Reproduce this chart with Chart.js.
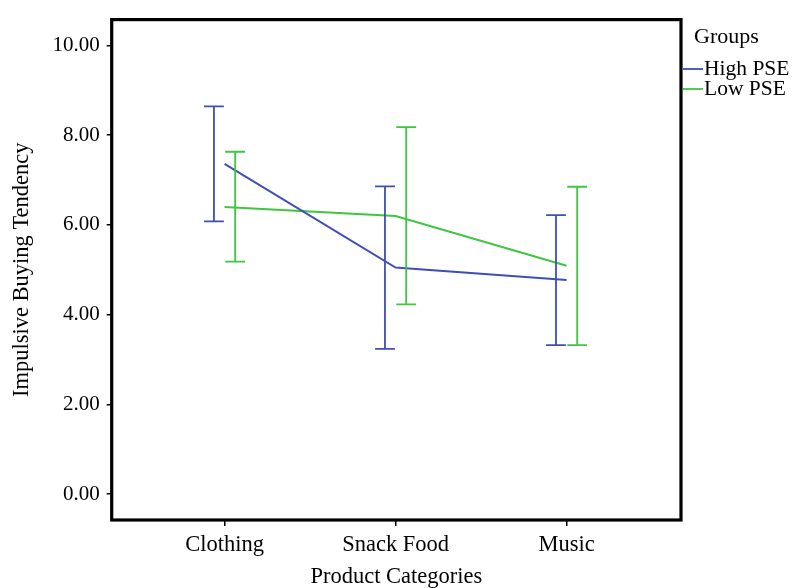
<!DOCTYPE html>
<html>
<head>
<meta charset="utf-8">
<script src="https://cdn.jsdelivr.net/npm/chart.js@4"></script>
<style>
  html, body { margin: 0; padding: 0; background: #fff; }
  #wrap { width: 796px; height: 588px; }
</style>
</head>
<body>
<div id="wrap"><canvas id="c" width="796" height="588"></canvas></div>
<script>
// ---- data ----
const categories = ['Clothing', 'Snack Food', 'Music'];
const seriesNames = ['High PSE', 'Low PSE'];
const highMean = [7.36, 5.05, 4.77];
const highLow  = [6.08, 3.24, 3.32];
const highHigh = [8.64, 6.86, 6.22];
const lowMean  = [6.40, 6.20, 5.09];
const lowLow   = [5.18, 4.23, 3.32];
const lowHigh  = [7.63, 8.18, 6.85];
const yTicks = [0, 2, 4, 6, 8, 10];

const BLUE = '#3e4fb6';
const GREEN = '#3fc63f';
const FONT = "'Liberation Serif', 'Times New Roman', serif";

const CHART_LEFT = 111.7, CHART_RIGHT = 681, CHART_TOP = 15.7, CHART_BOTTOM = 520;
const W = 796, H = 588;
const BAR_OFFSET = 0.062, CAP_HALF = 0.058;

const toPts = arr => arr.map((v, i) => ({ x: i + 1, y: v }));

const errorBars = [
  { color: BLUE, lo: highLow, hi: highHigh, off: -BAR_OFFSET },
  { color: GREEN, lo: lowLow, hi: lowHigh, off: BAR_OFFSET }
];

const extras = {
  id: 'extras',
  afterDatasetsDraw(chart) {
    const { ctx, scales: { x, y }, chartArea: a } = chart;
    ctx.save();
    // error bars
    errorBars.forEach(s => {
      ctx.strokeStyle = s.color;
      ctx.lineWidth = 1.8;
      s.lo.forEach((lo, i) => {
        const hi = s.hi[i];
        const cx = x.getPixelForValue(i + 1 + s.off);
        const xl = x.getPixelForValue(i + 1 + s.off - CAP_HALF);
        const xr = x.getPixelForValue(i + 1 + s.off + CAP_HALF);
        const yl = y.getPixelForValue(lo), yh = y.getPixelForValue(hi);
        ctx.beginPath();
        ctx.moveTo(cx, yl); ctx.lineTo(cx, yh);
        ctx.moveTo(xl, yl); ctx.lineTo(xr, yl);
        ctx.moveTo(xl, yh); ctx.lineTo(xr, yh);
        ctx.stroke();
      });
    });
    // frame
    ctx.strokeStyle = '#000';
    ctx.lineWidth = 3.2;
    ctx.strokeRect(a.left, a.top, a.right - a.left, a.bottom - a.top);
    // legend
    ctx.fillStyle = '#000';
    ctx.textBaseline = 'middle';
    ctx.textAlign = 'left';
    ctx.font = '22px ' + FONT;
    ctx.fillText('Groups', 694, 37);
    ctx.font = '21.5px ' + FONT;
    const ys = [69, 89];
    const cols = [BLUE, GREEN];
    seriesNames.forEach((n, i) => {
      ctx.strokeStyle = cols[i];
      ctx.lineWidth = 1.8;
      ctx.beginPath();
      ctx.moveTo(683, ys[i]); ctx.lineTo(703, ys[i]);
      ctx.stroke();
      ctx.fillText(n, 704, ys[i] + 0.5);
    });
    ctx.restore();
  }
};

new Chart(document.getElementById('c'), {
  type: 'scatter',
  data: {
    datasets: [
      { label: seriesNames[0], data: toPts(highMean), showLine: true, borderColor: BLUE, backgroundColor: BLUE, borderWidth: 2, pointRadius: 0, tension: 0 },
      { label: seriesNames[1], data: toPts(lowMean), showLine: true, borderColor: GREEN, backgroundColor: GREEN, borderWidth: 2, pointRadius: 0, tension: 0 }
    ]
  },
  options: {
    responsive: false,
    animation: false,
    devicePixelRatio: 1,
    layout: { padding: { left: 0, top: CHART_TOP, right: W - CHART_RIGHT, bottom: 0 } },
    plugins: { legend: { display: false }, tooltip: { enabled: false } },
    scales: {
      x: {
        type: 'linear',
        min: 0.340, max: 3.669,
        afterBuildTicks: s => { s.ticks = categories.map((c, i) => ({ value: i + 1 })); },
        afterFit: s => { s.height = H - CHART_BOTTOM; },
        border: { display: false },
        grid: { display: true, drawOnChartArea: false, drawTicks: true, tickLength: 6, color: '#000', lineWidth: 1.5 },
        ticks: { color: '#000', font: { family: FONT, size: 22.5 }, padding: 6, maxRotation: 0, autoSkip: false,
                 callback: v => categories[Math.round(v) - 1] },
        title: { display: true, text: 'Product Categories', color: '#000', font: { family: FONT, size: 22.5, lineHeight: 1 }, padding: { top: 0, bottom: 0 } }
      },
      y: {
        type: 'linear',
        min: -0.575, max: 10.575,
        afterBuildTicks: s => { s.ticks = yTicks.map(v => ({ value: v })); },
        afterFit: s => { s.width = CHART_LEFT; },
        border: { display: false },
        grid: { display: true, drawOnChartArea: false, drawTicks: true, tickLength: 5, color: '#000', lineWidth: 1.5 },
        ticks: { color: '#000', font: { family: FONT, size: 21 }, padding: 7, callback: v => Number(v).toFixed(2) },
        title: { display: true, text: 'Impulsive Buying Tendency', color: '#000', font: { family: FONT, size: 22.5, lineHeight: 1 }, padding: { top: 10.5, bottom: 0 } }
      }
    }
  },
  plugins: [extras]
});
</script>
</body>
</html>
